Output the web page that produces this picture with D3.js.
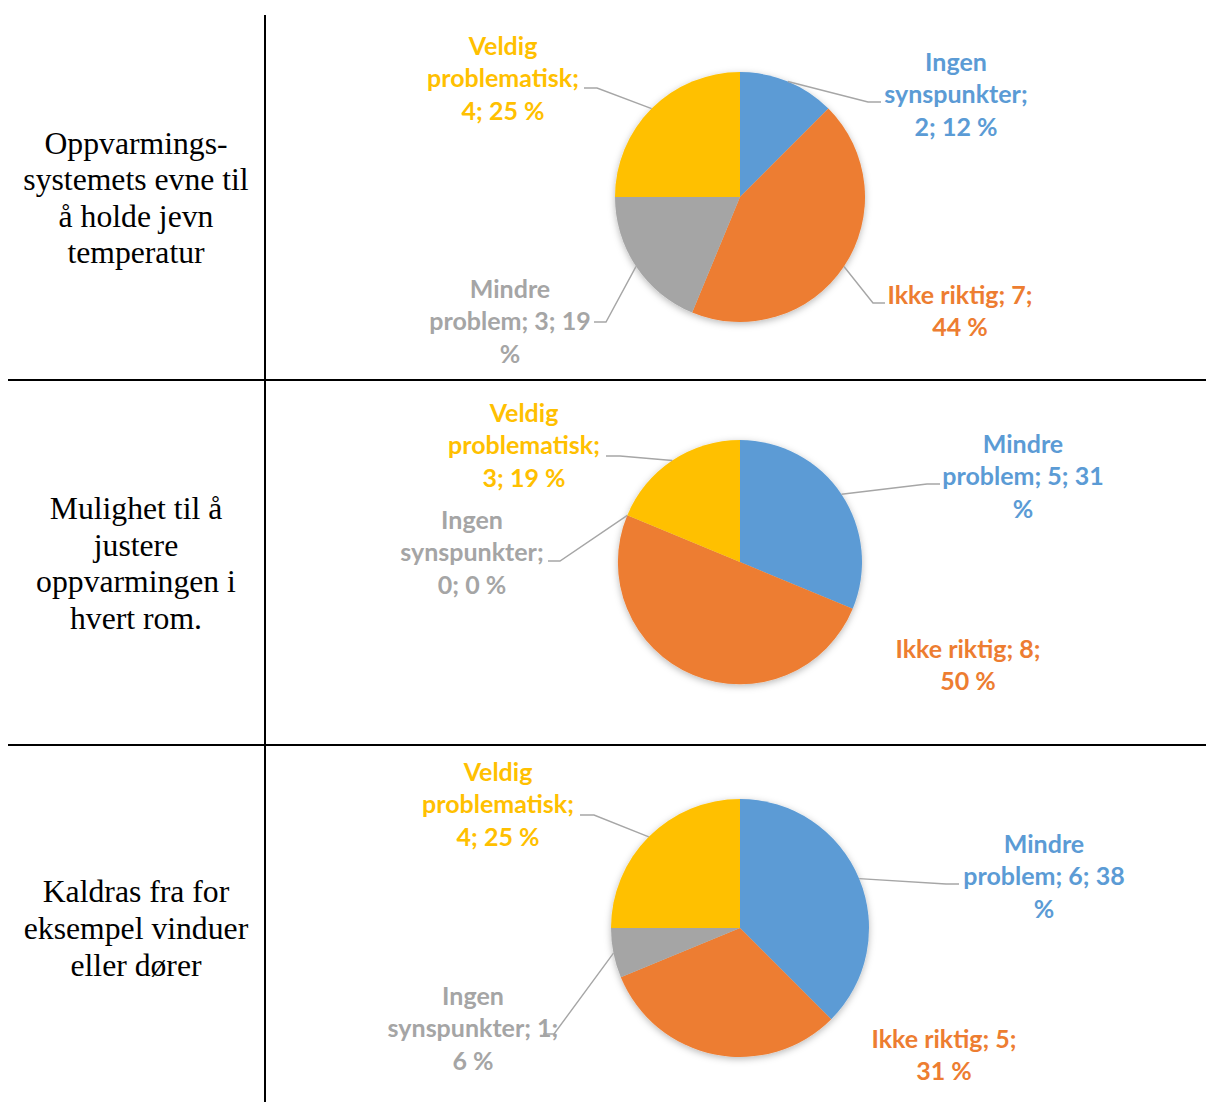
<!DOCTYPE html>
<html><head><meta charset="utf-8">
<script src="https://cdn.jsdelivr.net/npm/d3@7"></script>
<style>body{margin:0;background:#fff;overflow:hidden}</style>
</head><body>
<svg id="c" width="1206" height="1102"></svg>
<script>
// ---------- DATA ----------
const rowTitles = [
  ["Oppvarmings-", "systemets evne til", "å holde jevn", "temperatur"],
  ["Mulighet til å", "justere", "oppvarmingen i", "hvert rom."],
  ["Kaldras fra for", "eksempel vinduer", "eller dører"]
];
const chart1Categories = ["Ingen synspunkter", "Ikke riktig", "Mindre problem", "Veldig problematisk"];
const chart1Values = [2, 7, 3, 4];
const chart1Percents = [12, 44, 19, 25];

const chart2Categories = ["Mindre problem", "Ikke riktig", "Ingen synspunkter", "Veldig problematisk"];
const chart2Values = [5, 8, 0, 3];
const chart2Percents = [31, 50, 0, 19];

const chart3Categories = ["Mindre problem", "Ikke riktig", "Ingen synspunkter", "Veldig problematisk"];
const chart3Values = [6, 5, 1, 4];
const chart3Percents = [38, 31, 6, 25];

// ---------- STYLE / LAYOUT ----------
const sliceColors = ["#5B9BD5", "#ED7D31", "#A5A5A5", "#FFC000"];
const leaderColor = "#A6A6A6";
const labelFont = "Lato, 'Open Sans', sans-serif";
const labelSize = 25;
const labelLineH = 32.3;

const layouts = [
  { cx: 740, cy: 197, r: 125, labels: [
      { x: 956, y: 62, breaks: [1,1,3], elbow: [868,102], end: [881,102] },
      { x: 960, y: 295, breaks: [3,2], elbow: [873,303], end: [885,303] },
      { x: 510, y: 289, breaks: [1,3,1], elbow: [606,322], end: [594,322] },
      { x: 503, y: 46, breaks: [1,1,3], elbow: [597,88], end: [584,88] } ] },
  { cx: 740, cy: 562, r: 122, labels: [
      { x: 1023, y: 444, breaks: [1,3,1], elbow: [927,484], end: [940,484] },
      { x: 968, y: 649, breaks: [3,2], elbow: null },
      { x: 472, y: 520, breaks: [1,1,3], elbow: [560,561], end: [548,561] },
      { x: 524, y: 413, breaks: [1,1,3], elbow: [620,456], end: [606,456] } ] },
  { cx: 740, cy: 928, r: 129, labels: [
      { x: 1044, y: 844, breaks: [1,3,1], elbow: [946,884], end: [959,884] },
      { x: 944, y: 1039, breaks: [3,2], elbow: null },
      { x: 473, y: 996, breaks: [1,2,2], elbow: [554,1034], end: [543,1034] },
      { x: 498, y: 772, breaks: [1,1,3], elbow: [594,815], end: [580,815] } ] }
];

const charts = [
  { cats: chart1Categories, vals: chart1Values, pcts: chart1Percents },
  { cats: chart2Categories, vals: chart2Values, pcts: chart2Percents },
  { cats: chart3Categories, vals: chart3Values, pcts: chart3Percents }
];

const svg = d3.select("#c");

// shadow filter
const defs = svg.append("defs");
const f = defs.append("filter").attr("id", "sh").attr("x", "-20%").attr("y", "-20%").attr("width", "140%").attr("height", "140%");
f.append("feDropShadow").attr("dx", 0).attr("dy", 2).attr("stdDeviation", 3.5)
  .attr("flood-color", "#000").attr("flood-opacity", 0.28);

// table lines
const rowBounds = [15, 380, 745, 1102];
svg.append("line").attr("x1", 265).attr("x2", 265).attr("y1", rowBounds[0]).attr("y2", rowBounds[3])
  .attr("stroke", "#000").attr("stroke-width", 2);
[rowBounds[1], rowBounds[2]].forEach(y => {
  svg.append("line").attr("x1", 8).attr("x2", 1206).attr("y1", y).attr("y2", y)
    .attr("stroke", "#000").attr("stroke-width", 2);
});

// row titles
const titleCenters = [198, 563.5, 928.5];
const titleLineH = 36.6;
rowTitles.forEach((lines, i) => {
  const t = svg.append("text").attr("text-anchor", "middle")
    .attr("font-family", "'Liberation Serif', 'Times New Roman', serif")
    .attr("font-size", 31.7).attr("fill", "#000");
  const y0 = titleCenters[i] - (lines.length - 1) * titleLineH / 2;
  lines.forEach((ln, k) => {
    t.append("tspan").attr("x", 136).attr("y", y0 + k * titleLineH).attr("dy", "0.33em").text(ln);
  });
});

// pies
const pie = d3.pie().sort(null).value(d => d.v);
charts.forEach((ch, ci) => {
  const L = layouts[ci];
  const data = ch.cats.map((c, i) => ({ c, v: ch.vals[i], p: ch.pcts[i], color: sliceColors[i] }));
  const arcs = pie(data);
  const arc = d3.arc().innerRadius(0).outerRadius(L.r);
  const edge = d3.arc().innerRadius(L.r).outerRadius(L.r);
  const g = svg.append("g").attr("transform", `translate(${L.cx},${L.cy})`);
  g.append("g").attr("filter", "url(#sh)")
    .selectAll("path").data(arcs).join("path")
    .attr("d", arc).attr("fill", d => d.data.color);

  arcs.forEach((a, i) => {
    const lab = L.labels[i];
    if (lab.elbow) {
      const pt = edge.centroid(a);
      const p0 = [L.cx + pt[0], L.cy + pt[1]];
      svg.append("polyline")
        .attr("points", [p0, lab.elbow, lab.end].map(p => p.join(",")).join(" "))
        .attr("fill", "none").attr("stroke", leaderColor).attr("stroke-width", 1.4);
    }
    const full = `${a.data.c}; ${a.data.v}; ${a.data.p} %`;
    const tokens = full.split(" ");
    const lines = [];
    let k = 0;
    lab.breaks.forEach(n => { lines.push(tokens.slice(k, k + n).join(" ")); k += n; });
    const t = svg.append("text").attr("text-anchor", "middle")
      .attr("font-family", labelFont).attr("font-weight", 700)
      .attr("font-size", labelSize).attr("fill", a.data.color);
    lines.forEach((ln, j) => {
      t.append("tspan").attr("x", lab.x).attr("y", lab.y + j * labelLineH).attr("dy", "0.36em").text(ln);
    });
  });
});
</script>
</body></html>
